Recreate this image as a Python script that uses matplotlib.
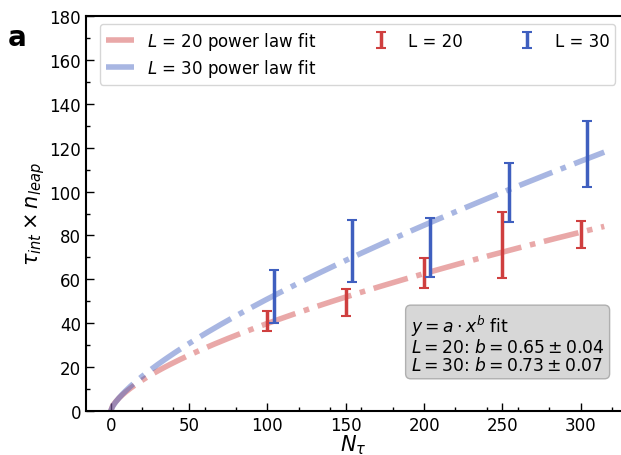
import matplotlib
matplotlib.use("Agg")
import matplotlib.pyplot as plt
import numpy as np
from matplotlib.ticker import MultipleLocator

x20 = [100, 150, 200, 250, 300]
y20 = [41.0, 49.5, 63.0, 75.5, 80.5]
e20 = [4.6, 6.0, 6.8, 15.0, 6.0]

x30 = [104, 154, 204, 254, 304]
y30 = [52.2, 73.0, 74.5, 99.5, 117.0]
e30 = [12.2, 14.0, 13.5, 13.5, 15.0]

# power law fits y = a * x^b
a20, b20 = 2.0, 0.65
a30, b30 = 1.77, 0.73
x_fit = np.linspace(0, 315, 300)

red = '#cf3f3f'
blue = '#3f5fbf'

fig = plt.figure(figsize=(6.21, 4.56), dpi=100)
ax = fig.add_axes([86 / 621, 1 - 412 / 456, 1 - 86 / 621, (412 - 17) / 456])

ax.plot(x_fit, a20 * x_fit**b20, '-.', color=red, alpha=0.45, lw=4,
        label='$L$ = 20 power law fit')
ax.plot(x_fit, a30 * x_fit**b30, '-.', color=blue, alpha=0.45, lw=4,
        label='$L$ = 30 power law fit')
ax.errorbar(x20, y20, yerr=e20, fmt='none', ecolor=red, elinewidth=2.5,
            capsize=3.5, capthick=1.5, label='L = 20')
ax.errorbar(x30, y30, yerr=e30, fmt='none', ecolor=blue, elinewidth=2.5,
            capsize=3.5, capthick=1.5, label='L = 30')

ax.set_xlim(-15.8, 325.7)
ax.set_ylim(0, 180)
ax.xaxis.set_major_locator(MultipleLocator(50))
ax.xaxis.set_minor_locator(MultipleLocator(20))
ax.yaxis.set_major_locator(MultipleLocator(20))
ax.yaxis.set_minor_locator(MultipleLocator(10))
ax.tick_params(which='both', direction='in', labelsize=12)
ax.tick_params(which='major', length=6, width=1)
ax.tick_params(which='minor', length=3, width=1)
ax.spines['right'].set_visible(False)
for s in ['left', 'bottom', 'top']:
    ax.spines[s].set_linewidth(1.5)

ax.set_xlabel(r'$N_\tau$', fontsize=15, labelpad=-1)
ax.set_ylabel(r'$\tau_{int} \times n_{leap}$', fontsize=15, labelpad=2)

ax.legend(ncol=3, fontsize=12, loc='upper left', mode='expand',
          bbox_to_anchor=(0.026, 0.98, 0.963, 0.0), handlelength=1.7,
          labelspacing=0.3, borderpad=0.35, borderaxespad=0)

ax.text(0.607, 0.172,
        '$y = a \\cdot x^b$ fit\n$L = 20$: $b = 0.65 \\pm 0.04$\n'
        '$L = 30$: $b = 0.73 \\pm 0.07$',
        transform=ax.transAxes, fontsize=12.3, va='center', ha='left',
        linespacing=1.0,
        bbox=dict(boxstyle='round,pad=0.3', facecolor='lightgray',
                  edgecolor='darkgray', alpha=0.9))

fig.text(0.012, 0.9, 'a', fontsize=20, fontweight='bold')

fig.savefig('out.png', dpi=100)
